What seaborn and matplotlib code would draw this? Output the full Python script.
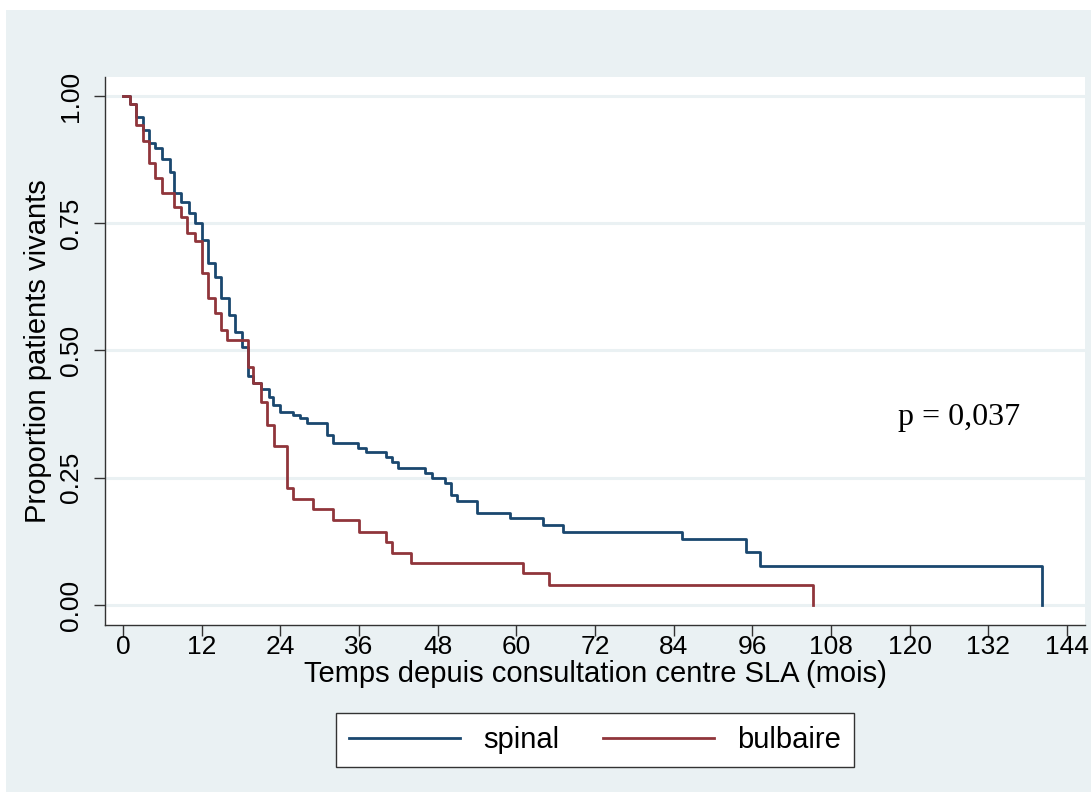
import matplotlib
matplotlib.use("Agg")
import matplotlib.pyplot as plt
import seaborn as sns
import pandas as pd
from matplotlib.patches import Rectangle

# ---- data ----
spinal_t = [0, 1.1, 2, 3, 4, 4.9, 6, 7.1, 7.8, 8.8, 10, 11, 12, 13, 14, 15, 16.1, 17.1, 18.1, 19,
            19.9, 21, 22.2, 22.9, 24, 26, 27, 28, 31.1, 32, 35.9, 37.1, 40.1, 41, 42, 46.1, 47.1,
            49.1, 50, 51, 54, 59, 64, 67.1, 85.2, 95.1, 97.2, 140.2]
spinal_s = [1.0, 0.984, 0.958, 0.933, 0.908, 0.897, 0.876, 0.851, 0.809, 0.792, 0.771, 0.750,
            0.717, 0.671, 0.645, 0.603, 0.570, 0.537, 0.507, 0.450, 0.436, 0.424, 0.409, 0.393,
            0.380, 0.373, 0.367, 0.358, 0.334, 0.319, 0.308, 0.301, 0.290, 0.280, 0.269, 0.260,
            0.249, 0.239, 0.216, 0.205, 0.181, 0.170, 0.157, 0.144, 0.130, 0.104, 0.077, 0.0]
bulb_t = [0, 1.1, 2, 3, 4, 4.9, 6, 7.8, 8.8, 9.8, 11, 12, 13, 14, 14.9, 15.9, 19, 19.9, 21, 21.9,
          23, 25, 25.9, 29, 32.1, 36, 40.1, 41, 44, 61, 65, 105.2]
bulb_s = [1.0, 0.984, 0.943, 0.912, 0.868, 0.838, 0.809, 0.781, 0.763, 0.730, 0.716, 0.652,
          0.603, 0.573, 0.540, 0.521, 0.468, 0.436, 0.398, 0.354, 0.312, 0.229, 0.208, 0.188,
          0.167, 0.144, 0.123, 0.103, 0.083, 0.062, 0.039, 0.0]
groups = ["spinal", "bulbaire"]
x_ticks = list(range(0, 145, 12))
y_ticks = [0.0, 0.25, 0.5, 0.75, 1.0]
p_text = "p = 0,037"

df = pd.concat([
    pd.DataFrame({"t": spinal_t, "S": spinal_s, "groupe": groups[0]}),
    pd.DataFrame({"t": bulb_t, "S": bulb_s, "groupe": groups[1]}),
], ignore_index=True)

# ---- style ----
BG = "#EAF1F3"
FONT = ["Liberation Sans Narrow", "Liberation Sans", "DejaVu Sans"]
plt.rcParams["font.family"] = FONT

fig = plt.figure(figsize=(10.91, 7.92), dpi=100, facecolor="white")
fig.patches.append(Rectangle((6 / 1091, 0), 1 - 6 / 1091, 782 / 792,
                             transform=fig.transFigure, facecolor=BG, edgecolor="none", zorder=-10))
ax = fig.add_axes([105 / 1091, 1 - 625 / 792, 980 / 1091, 548 / 792])
ax.set_facecolor("white")

palette = {"spinal": "#1A476F", "bulbaire": "#90353B"}
sns.lineplot(data=df, x="t", y="S", hue="groupe", hue_order=groups, palette=palette,
             estimator=None, sort=True, drawstyle="steps-post", linewidth=2.0, ax=ax)

ax.set_xlim(-2.75, 146.75)
ax.set_ylim(-0.0393, 1.0373)
ax.set_xticks(x_ticks)
ax.set_yticks(y_ticks)
ax.set_yticklabels([f"{v:.2f}" for v in y_ticks], rotation=90, va="center")
ax.tick_params(axis="both", labelsize=19, length=8, width=1.0, color="#333333",
               labelcolor="black")
ax.tick_params(axis="y", pad=8)
ax.tick_params(axis="x", pad=-1)
ax.grid(axis="y", color="#EAF1F3", linewidth=2.2)
ax.set_axisbelow(True)
for s in ["top", "right"]:
    ax.spines[s].set_visible(False)
for s in ["left", "bottom"]:
    ax.spines[s].set_color("#333333")
    ax.spines[s].set_linewidth(1.0)

ax.set_xlabel("Temps depuis consultation centre SLA (mois)", fontsize=21, labelpad=1)
ax.set_ylabel("Proportion patients vivants", fontsize=21, labelpad=5)

ax.text(118.2, 0.369, p_text, fontsize=23, family=["Liberation Serif", "DejaVu Serif"],
        va="center", ha="left")

sns.move_legend(ax, "center", bbox_to_anchor=(0.5, -0.21), ncol=2, title=None,
                frameon=True, fontsize=21, handlelength=3.8, columnspacing=1.5,
                handletextpad=0.8, borderpad=0.45, fancybox=False,
                edgecolor="#333333", framealpha=1)
leg = ax.get_legend()
leg.get_frame().set_linewidth(1.0)

fig.savefig("out.png", dpi=100, facecolor=fig.get_facecolor())
